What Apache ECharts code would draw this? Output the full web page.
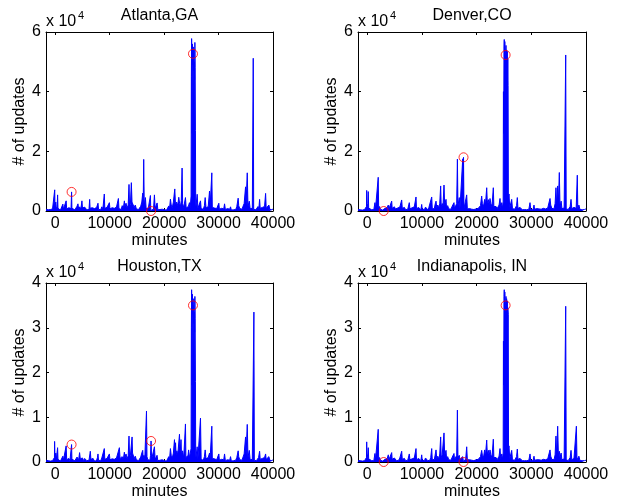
<!DOCTYPE html>
<html><head><meta charset="utf-8">
<script src="https://cdn.jsdelivr.net/npm/echarts@6/dist/echarts.min.js"></script>
<style>html,body{margin:0;padding:0;background:#fff}#c{width:618px;height:501px}</style>
</head><body><div id="c"></div>
<script>
const titles = ['Atlanta,GA', 'Denver,CO', 'Houston,TX', 'Indianapolis, IN'];
const xTicks = [0, 10000, 20000, 30000, 40000];
const yMaxes = [60000, 60000, 40000, 40000];
const ySteps = [20000, 20000, 10000, 10000];

const atlanta = [[-1700,600],[-1500,900],[-1300,400],[-1100,1000],[-900,500],[-700,300],[-500,700],[-300,400],
[-150,1200],[-100,7100],[-50,1500],[100,3000],[200,800],[350,1500],[430,5400],[500,900],[650,400],[800,1000],[950,300],[1100,700],[1300,400],[1400,2300],[1500,600],[1700,900],[1850,500],[2000,3400],[2100,700],[2300,400],[2500,1100],[2700,500],[2900,800],[3000,6400],[3060,900],[3200,500],[3400,1200],[3600,400],[3800,900],[4000,1600],[4170,2400],[4300,700],[4500,1400],[4700,600],[4900,3400],[5000,1000],[5200,500],[5400,1300],[5600,700],[5800,400],[6000,1000],[6200,500],[6320,3900],[6400,900],[6600,400],[6800,1100],[7000,500],[7200,800],[7400,300],[7600,1200],[7850,2600],[7950,600],[8150,1000],[8350,400],[8550,1400],[8750,700],[9010,5700],[9100,900],[9300,500],[9500,1200],[9700,600],[9940,2800],[10050,700],[10250,400],[10450,1100],[10650,500],[10850,900],[11050,400],[11250,1300],[11450,700],[11600,4200],[11700,800],[11900,1200],[12100,500],[12300,1800],[12500,900],[12700,3400],[12800,1500],[13000,2600],[13200,1000],[13400,2000],[13550,8900],[13650,1500],[13800,2200],[13980,9500],[14100,3000],[14350,3400],[14500,1200],[14700,2000],[14900,700],[15100,1300],[15300,500],[15500,900],[15700,1600],[15900,3000],[16070,6000],[16150,1500],[16250,17300],[16350,2000],[16560,4500],[16700,800],[16900,400],[17100,1000],[17300,600],[17480,5200],[17550,200],[17600,0],[17750,300],[17900,800],[18050,600],[18220,5400],[18350,900],[18500,1500],[18710,2700],[18850,400],[19050,200],[19250,500],[19450,300],[19650,600],[19850,200],[20050,400],[20250,800],[20450,300],[20650,1000],[20850,1700],[21000,900],[21160,4000],[21300,2000],[21500,1200],[21700,3000],[21960,7400],[22100,1500],[22300,3000],[22500,1800],[22690,4600],[22850,2500],[23000,1500],[23150,3500],[23300,14400],[23400,2500],[23600,1200],[23920,4500],[24050,1000],[24250,600],[24450,1500],[24650,2800],[24800,1200],
[24950,5000],[25000,45000],[25050,57800],[25100,52000],[25150,26000],[25200,56000],[25250,49000],[25300,52700],[25350,55000],[25400,47000],[25450,54000],[25500,30000],[25550,50000],[25600,44000],[25650,56500],[25700,48000],[25750,27000],[25800,3000],
[25850,1500],[26070,5600],[26200,900],[26400,1500],[26680,3400],[26800,800],[27000,1200],[27200,600],[27400,1800],[27540,4500],[27700,1000],[27900,700],[28100,1500],[28340,6700],[28450,1500],[28600,2000],[28760,12800],[28850,1200],[29050,600],[29250,1000],[29450,400],[29650,800],[29850,300],[30050,2600],[30150,600],[30350,300],[30550,900],[30750,400],[30950,700],[31100,2400],[31250,500],[31450,300],[31650,800],[31850,400],[32050,600],[32200,1400],[32350,300],[32550,700],[32750,400],[32950,900],[33150,500],[33350,1500],[33600,4300],[33700,1800],[33900,800],[34100,1200],[34300,600],[34500,1600],[34700,2500],[34960,8100],[35050,2000],[35270,12800],[35400,1500],[35640,3300],[35800,800],[36000,500],[36200,900],[36370,51200],[36450,600],[36650,1000],[36850,400],[37050,800],[37250,1500],[37400,700],[37540,3900],[37650,900],[37850,500],[38050,1200],[38250,600],[38450,1500],[38640,5900],[38750,900],[38950,500],[39250,2000],[39400,600],[39600,900],[39800,400],[40000,700]];

const denver = [[-1700,500],[-1500,1000],[-1300,400],[-1100,800],[-900,300],[-700,900],[-500,500],[-300,700],[-150,1500],[-110,6900],[-50,1200],[100,2500],[180,6500],[250,1000],[400,700],[600,1200],[800,400],[1000,900],[1200,500],[1400,2800],[1500,700],[1700,500],[1850,900],[2000,11300],[2080,800],[2250,1500],[2400,600],[2600,1000],[2800,300],[3000,0],[3100,400],[3250,900],[3450,500],[3650,1200],[3840,2000],[3950,700],[4150,1100],[4300,500],[4460,3300],[4550,900],[4750,500],[4950,1400],[5150,700],[5350,400],[5550,1000],[5750,600],[5950,1300],[6100,700],[6290,3700],[6400,900],[6600,500],[6800,1200],[7000,400],[7200,900],[7400,600],[7680,2800],[7800,700],[8000,400],[8200,1100],[8400,600],[8600,1400],[8750,900],[8910,4700],[9000,800],[9200,500],[9400,1200],[9600,700],[9800,400],[9950,2200],[10050,600],[10250,1000],[10450,500],[10650,1300],[10850,700],[11050,400],[11250,1100],[11450,600],[11600,1500],[11780,4700],[11880,900],[12050,1400],[12250,700],[12400,2200],[12570,3300],[12700,1200],[12900,2000],[13100,900],[13250,2600],[13420,8400],[13520,1500],[13700,2500],[13850,1800],[14030,8700],[14150,2200],[14400,3900],[14500,1000],[14700,1800],[14900,700],[15100,1200],[15300,600],[15500,1500],[15700,900],[15860,2800],[15950,800],[16150,1400],[16350,2500],[16480,17400],[16580,1600],[16820,4500],[16950,900],[17150,600],[17300,1200],[17450,17500],[17530,900],[17600,18000],[17680,800],[17800,600],[18000,1000],[18180,5400],[18300,700],[18500,400],[18700,800],[18900,300],[19100,600],[19300,200],[19500,500],[19700,300],[19900,700],[20100,400],[20300,900],[20500,500],[20700,1800],[20920,5000],[21050,2500],[21250,1500],[21460,3900],[21600,2000],[21840,7800],[21950,2800],[22150,3800],[22300,2000],[22440,4200],[22600,2500],[22800,1500],[23050,7800],[23150,1500],[23350,1000],[23550,1500],[23750,800],[23950,1200],[24100,2000],[24270,4200],[24400,1200],[24600,2800],[24750,900],
[24850,3000],[24900,40000],[24950,26000],[25000,55000],[25050,57500],[25100,50000],[25150,56800],[25200,53000],[25250,45000],[25300,52300],[25370,55500],[25420,48000],[25480,54000],[25550,47000],[25600,53500],[25650,44000],[25700,51000],[25750,42000],[25800,4000],
[25920,5700],[26050,1000],[26250,1500],[26410,3900],[26550,800],[26750,1300],[26950,600],[27150,1100],[27300,1800],[27440,4500],[27550,900],[27750,500],[27950,1200],[28150,700],[28350,400],[28550,1000],[28750,500],[28950,800],[29150,400],[29350,1000],[29550,600],[29760,2800],[29900,500],[30100,800],[30300,400],[30490,2000],[30600,600],[30800,300],[31000,800],[31200,400],[31400,700],[31600,300],[31800,600],[32000,400],[32200,900],[32400,300],[32600,700],[32800,400],[33000,1000],[33200,1500],[33420,4200],[33550,2000],[33750,900],[33950,1400],[34150,700],[34350,2500],[34510,7800],[34620,2000],[34820,8400],[34950,2500],[35120,12900],[35250,1500],[35450,3300],[35600,800],[35800,500],[36000,1000],[36150,600],[36290,52300],[36380,700],[36550,1100],[36750,500],[36950,900],[37100,1500],[37260,3900],[37400,800],[37600,500],[37800,1200],[38000,600],[38200,900],[38410,12000],[38500,700],[38700,2000],[38900,500],[39100,1000],[39300,400],[39500,800],[39700,500],[40000,700]];

const houston = [[-1700,400],[-1500,700],[-1300,300],[-1100,600],[-900,200],[-700,500],[-500,300],[-300,600],[-150,1000],[-120,4600],[-50,900],[100,2000],[200,600],[350,1000],[430,3200],[500,600],[650,300],[800,700],[950,200],[1100,500],[1300,300],[1400,1300],[1500,400],[1700,600],[1850,300],[2000,3600],[2100,500],[2300,300],[2500,800],[2700,300],[2850,600],[3000,3900],[3060,600],[3200,300],[3400,800],[3600,300],[3800,600],[4000,1100],[4170,1200],[4300,500],[4470,2100],[4600,700],[4800,400],[5000,900],[5200,300],[5400,800],[5600,500],[5800,300],[6000,700],[6200,400],[6440,2400],[6550,600],[6750,300],[6950,800],[7150,300],[7350,600],[7550,200],[7750,1000],[7850,1800],[7950,400],[8150,700],[8350,300],[8550,900],[8750,500],[9010,3000],[9100,600],[9300,300],[9500,800],[9700,400],[9940,1800],[10050,500],[10250,300],[10450,700],[10650,300],[10850,600],[11050,300],[11250,900],[11450,500],[11780,3200],[11900,800],[12100,400],[12300,1200],[12500,600],[12700,2200],[12800,1000],[13000,1800],[13200,700],[13400,1400],[13550,5800],[13650,1000],[13800,1500],[14110,5600],[14200,2000],[14350,2400],[14500,800],[14700,1300],[14900,500],[15100,900],[15300,300],[15500,600],[15700,1100],[15900,2000],[16070,2600],[16150,1000],[16300,1500],[16450,800],[16600,600],[16760,11400],[16850,1200],[17000,500],[17200,800],[17400,400],[17500,1500],[17600,4700],[17700,600],[17950,1000],[18220,3400],[18350,600],[18500,1000],[18700,1500],[18850,300],[19050,150],[19250,400],[19450,200],[19650,500],[19850,150],[20050,300],[20250,600],[20450,200],[20650,700],[20850,1200],[21000,700],[21160,3000],[21300,1500],[21500,900],[21700,2000],[21900,5000],[22000,1500],[22100,4300],[22200,1500],[22350,2500],[22500,1500],[22820,6200],[22950,2000],[23100,5000],[23200,1500],[23400,2500],[23600,900],[23920,8500],[24000,1000],[24200,600],[24400,1500],[24500,2700],[24650,900],[24800,800],
[24950,3000],[25000,30000],[25050,38500],[25100,35000],[25150,17200],[25200,37500],[25250,33000],[25300,35000],[25400,31000],[25450,36500],[25500,20000],[25550,33500],[25600,29000],[25650,37000],[25700,32000],[25750,18000],[25800,2000],
[25850,1000],[26070,3400],[26200,600],[26400,1000],[26680,9800],[26800,600],[27000,900],[27200,400],[27400,1200],[27540,2700],[27700,700],[27900,500],[28100,1000],[28340,2000],[28450,800],[28600,1200],[28760,8000],[28850,800],[29050,400],[29250,700],[29450,300],[29650,500],[29850,200],[30050,1800],[30150,400],[30350,200],[30550,600],[30750,300],[30950,500],[31100,1800],[31250,300],[31450,200],[31650,500],[31850,300],[32050,400],[32200,1200],[32350,200],[32550,500],[32750,300],[32950,600],[33150,400],[33350,1000],[33600,2500],[33700,1200],[33900,500],[34100,800],[34300,400],[34500,1100],[34700,1800],[34960,5600],[35050,1500],[35270,8400],[35400,1000],[35640,2600],[35800,500],[36000,300],[36200,600],[36490,33500],[36570,400],[36750,700],[36950,300],[37150,600],[37350,1000],[37540,2400],[37650,600],[37850,300],[38050,800],[38250,400],[38450,1000],[38640,1800],[38750,600],[38950,300],[39250,1200],[39400,400],[39600,600],[39800,300],[40000,500]];

const indianapolis = [[-1700,300],[-1500,700],[-1300,300],[-1100,500],[-900,200],[-700,600],[-500,300],[-300,500],[-150,1000],[-110,4500],[-50,800],[100,1800],[180,3200],[250,700],[400,500],[600,800],[800,300],[1000,600],[1200,300],[1400,1900],[1500,500],[1700,300],[1850,600],[2000,7300],[2080,500],[2250,1000],[2400,400],[2600,700],[2800,200],[3000,0],[3100,300],[3250,600],[3450,300],[3650,800],[3840,1600],[3950,500],[4150,700],[4300,300],[4460,2100],[4550,600],[4750,300],[4950,900],[5150,500],[5350,300],[5550,700],[5750,400],[5950,900],[6100,500],[6290,2400],[6400,600],[6600,300],[6800,800],[7000,300],[7200,600],[7400,400],[7680,1800],[7800,500],[8000,300],[8200,700],[8400,400],[8600,900],[8750,600],[8910,3000],[9000,500],[9200,300],[9400,800],[9600,500],[9800,300],[9950,1600],[10050,400],[10250,700],[10450,300],[10650,900],[10850,500],[11050,300],[11250,700],[11450,400],[11600,1000],[11780,3000],[11880,600],[12050,900],[12250,500],[12400,1500],[12570,2700],[12700,800],[12900,1300],[13100,600],[13250,1800],[13420,5600],[13520,1000],[13700,1600],[13850,1200],[14030,6500],[14150,1500],[14400,2600],[14500,700],[14700,1200],[14900,500],[15100,800],[15300,400],[15500,1000],[15700,600],[15860,1900],[15950,500],[16150,900],[16350,1500],[16480,11600],[16580,1000],[16820,1500],[16950,600],[17150,400],[17300,800],[17450,1200],[17600,0],[17700,300],[17850,400],[18000,700],[18180,3400],[18300,500],[18500,300],[18700,500],[18900,200],[19100,400],[19300,150],[19500,300],[19700,200],[19900,500],[20100,300],[20300,600],[20500,300],[20700,1200],[20920,2600],[21050,1500],[21250,1000],[21460,2700],[21600,1300],[21840,4900],[21950,1800],[22150,2600],[22300,1300],[22440,2700],[22600,1600],[22800,1000],[23050,5100],[23150,1000],[23350,700],[23550,1000],[23750,500],[23950,800],[24100,1300],[24270,3000],[24400,800],[24600,1800],[24750,600],
[24850,2000],[24900,27000],[24950,17200],[25000,37000],[25050,38500],[25100,33500],[25150,38000],[25200,35500],[25250,30000],[25300,35000],[25370,37000],[25420,32000],[25480,36500],[25550,31500],[25600,36000],[25650,29500],[25700,34500],[25780,33000],[25830,3000],
[25920,3600],[26050,700],[26250,1000],[26410,2600],[26550,500],[26750,900],[26950,400],[27150,700],[27300,1200],[27440,2900],[27550,600],[27750,300],[27950,800],[28150,500],[28350,300],[28550,700],[28750,300],[28950,500],[29150,300],[29350,700],[29550,400],[29760,1800],[29900,300],[30100,500],[30300,300],[30490,1300],[30600,400],[30800,200],[31000,500],[31200,300],[31400,500],[31600,200],[31800,400],[32000,300],[32200,600],[32400,200],[32600,500],[32800,300],[33000,700],[33200,1000],[33420,2700],[33550,1300],[33750,600],[33950,900],[34150,500],[34350,1600],[34510,5800],[34620,1300],[34820,8000],[34950,1600],[35120,2400],[35250,1000],[35450,2000],[35600,500],[35800,300],[36000,700],[36150,400],[36290,34800],[36380,500],[36550,700],[36750,300],[36950,600],[37100,1000],[37260,2600],[37400,500],[37600,300],[37800,800],[38000,400],[38240,8000],[38350,500],[38500,600],[38700,1300],[38900,300],[39100,700],[39300,300],[39500,500],[39700,300],[40000,400]];

const atlantaMarks = [[3000,6400],[17600,0],[25300,52700]];
const denverMarks = [[3000,0],[17600,18000],[25300,52300]];
const houstonMarks = [[3000,3900],[17600,4700],[25300,35000]];
const indianapolisMarks = [[3000,0],[17600,0],[25300,35000]];

const seriesData = [atlanta, denver, houston, indianapolis];
const marksData = [atlantaMarks, denverMarks, houstonMarks, indianapolisMarks];

const FONT = "'Liberation Sans', Arial, Helvetica, sans-serif";
const boxes = [
  {left:46, top:32, width:227, height:179},
  {left:358, top:32, width:228, height:179},
  {left:46, top:283, width:227, height:179},
  {left:358, top:283, width:228, height:179}
];
const XMIN = -1700, XMAX = 40000;

const grid = [], xAxis = [], yAxis = [], series = [], graphic = [];
boxes.forEach((b, i) => {
  grid.push({left:b.left, top:b.top, width:b.width, height:b.height, show:false, containLabel:false});
  const tick = {show:true, inside:true, length:3, lineStyle:{color:'#000', width:1}, customValues:xTicks};
  xAxis.push({gridIndex:i, type:'value', min:XMIN, max:XMAX, position:'bottom',
    axisLine:{show:true, onZero:false, lineStyle:{color:'#000', width:1}},
    axisTick:tick,
    axisLabel:{show:true, customValues:xTicks, color:'#000', fontSize:16, fontFamily:FONT, margin:5,
      showMinLabel:true, showMaxLabel:true, hideOverlap:false, formatter:v => String(v)},
    splitLine:{show:false},
    name:'minutes', nameLocation:'middle', nameGap:20,
    nameTextStyle:{color:'#000', fontSize:16, fontFamily:FONT}
  });
  xAxis.push({gridIndex:i, type:'value', min:XMIN, max:XMAX, position:'top',
    axisLine:{show:true, onZero:false, lineStyle:{color:'#000', width:1}},
    axisTick:tick, axisLabel:{show:false}, splitLine:{show:false}
  });
  const ytick = {show:true, inside:true, length:3, lineStyle:{color:'#000', width:1}};
  yAxis.push({gridIndex:i, type:'value', min:0, max:yMaxes[i], interval:ySteps[i], position:'left',
    axisLine:{show:true, onZero:false, lineStyle:{color:'#000', width:1}},
    axisTick:ytick,
    axisLabel:{color:'#000', fontSize:16, fontFamily:FONT, margin:5, formatter:v => String(v/10000)},
    splitLine:{show:false},
    name:'# of updates', nameLocation:'middle', nameGap:18, nameRotate:90,
    nameTextStyle:{color:'#000', fontSize:16, fontFamily:FONT}
  });
  yAxis.push({gridIndex:i, type:'value', min:0, max:yMaxes[i], interval:ySteps[i], position:'right',
    axisLine:{show:true, onZero:false, lineStyle:{color:'#000', width:1}},
    axisTick:ytick, axisLabel:{show:false}, splitLine:{show:false}
  });
  series.push({type:'line', xAxisIndex:2*i, yAxisIndex:2*i, data:seriesData[i],
    showSymbol:false, symbol:'none', lineStyle:{color:'#0000ff', width:1},
    areaStyle:{color:'#0000ff', opacity:1}, itemStyle:{color:'#0000ff'}, z:2, silent:true});
  series.push({type:'scatter', xAxisIndex:2*i, yAxisIndex:2*i, data:marksData[i],
    symbol:'circle', symbolSize:9, clip:false,
    itemStyle:{color:'rgba(0,0,0,0)', borderColor:'#ff0000', borderWidth:1}, z:5, silent:true});
  const cx = b.left + b.width/2;
  graphic.push({type:'text', x:cx, y:b.top-16, style:{text:titles[i], fill:'#000', font:'16px ' + FONT, align:'center', verticalAlign:'middle'}});
  graphic.push({type:'text', x:b.left, y:b.top-10, style:{text:'x 10', fill:'#000', font:'16px ' + FONT, align:'left', verticalAlign:'middle'}});
  graphic.push({type:'text', x:b.left+32, y:b.top-16, style:{text:'4', fill:'#000', font:'11px ' + FONT, align:'left', verticalAlign:'middle'}});
});

const chart = echarts.init(document.getElementById('c'), null, {renderer:'canvas'});
chart.setOption({animation:false, backgroundColor:'#fff', grid, xAxis, yAxis, series, graphic});
</script></body></html>
